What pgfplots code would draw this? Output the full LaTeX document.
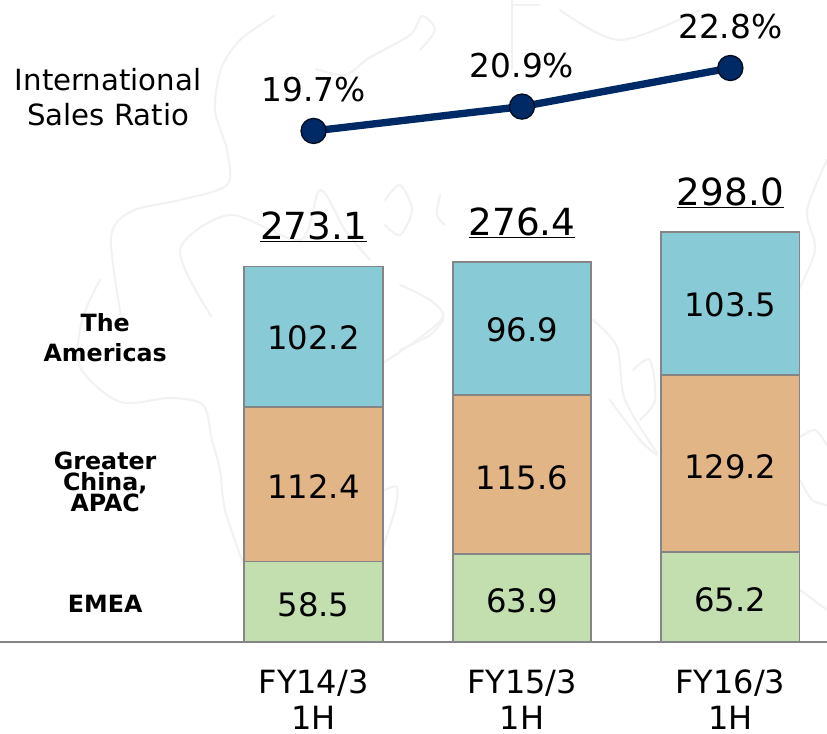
\documentclass[border=0pt]{standalone}
\usepackage{fontspec}
\setmainfont{DejaVu Sans}
\usepackage{pgfplots}
\usepackage{pgfplotstable}
\pgfplotsset{compat=1.18}
\definecolor{cblue}{HTML}{88CAD6}
\definecolor{corange}{HTML}{E2B587}
\definecolor{cgreen}{HTML}{C3DFB0}
\definecolor{cedge}{HTML}{858585}
\definecolor{cnavy}{HTML}{002A66}
\definecolor{cmap}{HTML}{F2F2F2}
\newcommand{\fs}[2]{\fontsize{#1}{#2}\selectfont}
\pgfplotstableread{
x y label
0 27.0 58.5
1 30.0 63.9
2 31.0 65.2
0 113.0 112.4
1 119.4 115.6
2 127.5 129.2
0 221.0 102.2
1 227.0 96.9
2 245.0 103.5
}\seglabels
\begin{document}
\begin{tikzpicture}
\useasboundingbox (0,-69pt) rectangle (620.25pt,481.5pt);
% faint world map in the background, in pixel coordinates of the reference
\begin{scope}[shift={(0,481.5pt)},x=0.75pt,y=-0.75pt,draw=cmap,line width=1.6pt,line join=round,line cap=round]
\draw plot[smooth] coordinates {(274,16)(240,40)(221,69)(215,110)(227,150)(227,185)(180,200)(132,211)(111,237)(121,316)};
\draw plot[smooth] coordinates {(100,280)(82,320)(80,367)(120,402)(170,398)(203,405)(212,440)(220,470)(225,510)(243,563)};
\draw plot[smooth] coordinates {(211,316)(180,250)(230,215)(300,240)(320,190)(345,230)(370,260)};
\draw plot[smooth] coordinates {(316,69)(345,75)(369,58)(410,35)(422,16)(435,30)(420,50)};
\draw plot[smooth] coordinates {(385,200)(400,185)(412,210)(400,235)(385,225)};
\draw plot[smooth] coordinates {(440,195)(437,215)(445,225)};
\draw plot[smooth] coordinates {(512,0)(512,69)};
\draw plot[smooth] coordinates {(512,5)(540,5)};
\draw plot[smooth] coordinates {(383,363)(417,340)(443,317)(430,300)(400,285)};
\draw plot[smooth] coordinates {(400,350)(430,335)(443,320)};
\draw plot[smooth] coordinates {(383,547)(395,510)(397,487)(385,490)};
\draw plot[smooth] coordinates {(593,320)(617,347)(625,400)(657,453)};
\draw plot[smooth] coordinates {(633,370)(650,360)(655,400)(640,420)};
\draw plot[smooth] coordinates {(610,400)(640,440)(657,455)};
\draw plot[smooth] coordinates {(800,437)(815,430)(827,445)};
\draw plot[smooth] coordinates {(800,480)(812,500)(827,505)};
\draw plot[smooth] coordinates {(800,590)(827,610)};
\draw plot[smooth] coordinates {(827,160)(807,211)(815,250)(795,300)(786,343)};
\draw plot[smooth] coordinates {(560,10)(620,40)(700,10)};
\end{scope}
% stacked bars
\begin{axis}[
  at={(0,0)},anchor=south west,
  scale only axis,width=620.25pt,height=481.5pt,
  xmin=-1.5048,xmax=2.4639,ymin=0,ymax=466.9,
  axis x line=bottom,axis y line=none,
  axis line style={-,draw=cedge,line width=1.5pt},
  xtick={0,1,2},
  xticklabels={FY14/3\\1H,FY15/3\\1H,FY16/3\\1H},
  x tick label style={align=center,font=\fs{24}{27},yshift=-17pt},
  major tick length=0pt,
  clip=false,
  ybar stacked,bar width=0.664,
]
\addplot[fill=cgreen,draw=cedge,line width=1.4pt] coordinates {(0,58.5)(1,63.9)(2,65.2)};
\addplot[fill=corange,draw=cedge,line width=1.4pt] coordinates {(0,112.4)(1,115.6)(2,129.2)};
\addplot[fill=cblue,draw=cedge,line width=1.4pt] coordinates {(0,102.2)(1,96.9)(2,103.5)};
\end{axis}
% labels on top of the bars (same scales as the bars)
\begin{axis}[
  at={(0,0)},anchor=south west,
  scale only axis,width=620.25pt,height=481.5pt,
  xmin=-1.5048,xmax=2.4639,ymin=0,ymax=466.9,
  hide axis,clip=false,
]
\addplot[draw=none,mark=none,
  nodes near coords,point meta=explicit symbolic,
  every node near coord/.style={anchor=center,text=black,font=\fs{24.2}{28}}]
  table[x=x,y=y,meta=label] {\seglabels};
\node[font=\fs{28}{32}] at (axis cs:0,301.8) {\underline{273.1}};
\node[font=\fs{28}{32}] at (axis cs:1,304.7) {\underline{276.4}};
\node[font=\fs{28}{32}] at (axis cs:2,326.5) {\underline{298.0}};
\node[font=\bfseries\fs{17.8}{22.5},align=center] at (axis cs:-1.0,221.3) {The\\Americas};
\node[font=\bfseries\fs{17.8}{15.75},align=center] at (axis cs:-1.0,116.2) {Greater\\China,\\APAC};
\node[font=\bfseries\fs{17.8}{22},align=center] at (axis cs:-1.0,27.6) {EMEA};
\node[font=\fs{21.9}{26.25},align=center] at (axis cs:-0.986,396) {International\\Sales Ratio};
\end{axis}
% international sales ratio line
\begin{axis}[
  at={(0,0)},anchor=south west,
  scale only axis,width=620.25pt,height=481.5pt,
  xmin=-1.5048,xmax=2.4639,ymin=-5.47,ymax=26.15,
  hide axis,clip=false,
]
\addplot[cnavy,line width=5.5pt,mark=*,
  mark options={fill=cnavy,draw=black!70!cnavy,line width=1pt},mark size=9.4pt,
  nodes near coords={\pgfmathprintnumber[fixed,fixed zerofill,precision=1,assume math mode=true]{\pgfplotspointmeta}\%},
  every node near coord/.style={anchor=center,yshift=30.75pt,text=black,font=\fs{24.6}{28}},
  point meta=y]
  coordinates {(0,19.7)(1,20.9)(2,22.8)};
\end{axis}
\end{tikzpicture}
\end{document}
